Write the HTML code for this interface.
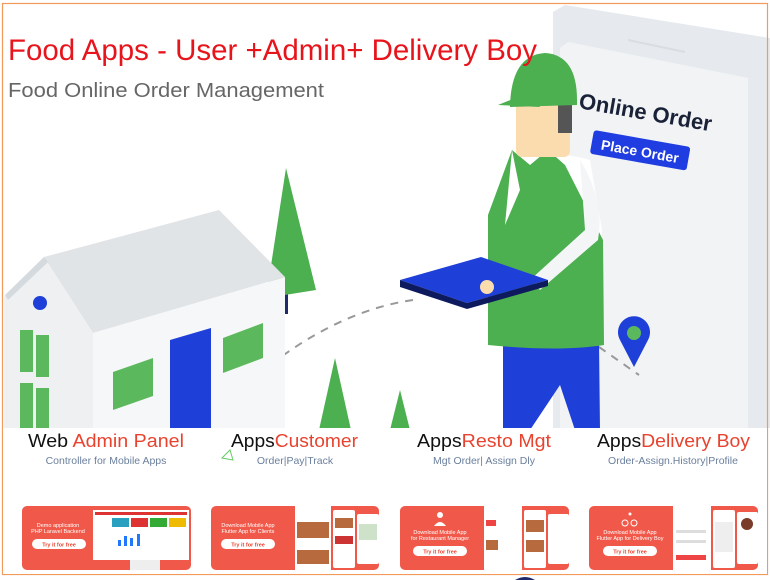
<!DOCTYPE html>
<html><head><meta charset="utf-8"><style>
html,body{margin:0;padding:0;background:#fff;width:770px;height:580px;overflow:hidden}
</style></head><body>
<svg width="770" height="580" viewBox="0 0 770 580" xmlns="http://www.w3.org/2000/svg" font-family="Liberation Sans, sans-serif">
<!-- phone -->
<polygon points="553,12 565,5 770,38 770,428 553,428" fill="#e6eaee"/>
<polygon points="560,48 568,42 748,78 748,428 560,428" fill="#f1f3f5"/>
<line x1="628" y1="40" x2="685" y2="52" stroke="#d8dde2" stroke-width="2"/>
<text x="578" y="108" font-size="22" font-weight="bold" fill="#1a2238" transform="rotate(10 578 108)">Online Order</text>
<g transform="rotate(10 594 130)"><rect x="594" y="130" width="98" height="24" rx="3" fill="#1f3de0"/>
<text x="643" y="148" font-size="14" font-weight="bold" fill="#fff" text-anchor="middle">Place Order</text></g>
<!-- dashed path -->
<path d="M413,300 C340,310 260,360 206,430" fill="none" stroke="#999" stroke-width="2" stroke-dasharray="8,7"/>
<path d="M599,347 L639,375" fill="none" stroke="#999" stroke-width="2" stroke-dasharray="8,7"/>
<!-- tree tall -->
<rect x="282" y="290" width="6" height="24" fill="#1e2a6b"/>
<polygon points="286,168 266,298 316,290" fill="#4caf50"/>
<!-- house -->
<polygon points="44,257 219,210 285,277 93,333" fill="#e1e4e7"/>
<polygon points="44,257 93,333 93,430 4,430 4,297" fill="#eef0f2"/>
<polygon points="93,333 285,277 285,430 93,430" fill="#f6f7f8"/>
<polygon points="5,295 44,257 48,262 8,300" fill="#d5dade"/>
<circle cx="40" cy="303" r="7" fill="#1e3fd8"/>
<rect x="20" y="330" width="13" height="42" fill="#5cb85c"/>
<rect x="36" y="335" width="13" height="42" fill="#5cb85c"/>
<rect x="20" y="383" width="13" height="47" fill="#5cb85c"/>
<rect x="36" y="388" width="13" height="42" fill="#5cb85c"/>
<polygon points="113,372 153,358 153,396 113,410" fill="#5cb85c"/>
<polygon points="170,340 211,328 211,430 170,430" fill="#1e3fd8"/>
<polygon points="223,338 263,323 263,358 223,373" fill="#5cb85c"/>
<!-- small trees -->
<polygon points="335,358 319,430 351,430" fill="#4caf50"/>
<polygon points="400,390 390,430 410,430" fill="#4caf50"/>
<!-- man -->
<polygon points="503,343 599,340 600,430 575,430 560,385 530,430 503,430" fill="#1e3fd8"/>
<path d="M500,175 Q540,145 590,160 L602,230 L600,330 L498,330 Z" fill="#fff"/>
<path d="M488,215 L512,150 L530,165 L548,150 L565,165 L603,240 L604,345 Q560,352 488,345 Z" fill="#4caf50"/>
<path d="M505,225 L512,150 L520,190 Z" fill="#fff"/>
<path d="M580,160 Q605,200 598,240 L540,290 L530,280 L585,230 Z" fill="#f4f5f7"/>
<rect x="516" y="95" width="54" height="62" rx="6" fill="#fbdcae"/>
<rect x="558" y="95" width="14" height="38" fill="#555"/>
<path d="M510,107 Q511,55 545,53 Q577,55 577,100 L577,105 Z" fill="#4caf50"/>
<polygon points="498,105 530,92 540,107" fill="#4caf50"/>
<polygon points="400,280 481,257 548,280 467,303" fill="#1e3fd8"/>
<polygon points="400,280 467,303 548,280 548,286 467,309 400,287" fill="#0e1a5e"/>
<circle cx="487" cy="287" r="7" fill="#fbdcae"/>
<!-- pin -->
<path d="M634,367 L620,340 A16,16 0 1 1 648,340 Z" fill="#1e3fd8"/>
<circle cx="634" cy="333" r="7" fill="#5cb85c"/>
<!-- titles -->
<text x="8" y="60" font-size="30" fill="#e8141c" textLength="529" lengthAdjust="spacingAndGlyphs">Food Apps - User +Admin+ Delivery Boy</text>
<text x="8" y="97" font-size="20" fill="#666" textLength="316" lengthAdjust="spacingAndGlyphs">Food Online Order Management</text>
<!-- border -->
<rect x="2.5" y="3.5" width="765" height="571" fill="none" stroke="#f39a5b" stroke-width="1.2"/>
<rect x="3" y="428" width="764" height="146" fill="#fff"/>
<!-- section labels -->
<g font-size="18">
<text x="28" y="447" textLength="156" lengthAdjust="spacingAndGlyphs"><tspan fill="#111">Web </tspan><tspan fill="#e8432e">Admin Panel</tspan></text>
<text x="231" y="447" textLength="127" lengthAdjust="spacingAndGlyphs"><tspan fill="#111">Apps</tspan><tspan fill="#e8432e">Customer</tspan></text>
<text x="417" y="447" textLength="134" lengthAdjust="spacingAndGlyphs"><tspan fill="#111">Apps</tspan><tspan fill="#e8432e">Resto Mgt</tspan></text>
<text x="597" y="447" textLength="153" lengthAdjust="spacingAndGlyphs"><tspan fill="#111">Apps</tspan><tspan fill="#e8432e">Delivery Boy</tspan></text>
</g>
<g font-size="10.5" fill="#6a7f9c" text-anchor="middle">
<text x="106" y="464">Controller for Mobile Apps</text>
<text x="295" y="464">Order|Pay|Track</text>
<text x="484" y="464">Mgt Order| Assign Dly</text>
<text x="673" y="464">Order-Assign.History|Profile</text>
</g>
<polygon points="222,458 230,450 233,460" fill="none" stroke="#6c6" stroke-width="1"/>
<!-- cards backgrounds -->
<rect x="22" y="506" width="169" height="64" rx="5" fill="#f0594a"/>
<rect x="211" y="506" width="168" height="64" rx="5" fill="#f0594a"/>
<rect x="400" y="506" width="169" height="64" rx="5" fill="#f0594a"/>
<rect x="589" y="506" width="169" height="64" rx="5" fill="#f0594a"/>
<!-- white screenshot areas -->
<g fill="#ffffff">
<rect x="93" y="510" width="96" height="50"/>
<rect x="295" y="506" width="36" height="64"/><rect x="333" y="510" width="22" height="58" rx="2"/><rect x="357" y="514" width="22" height="50" rx="2"/>
<rect x="484" y="506" width="38" height="64"/><rect x="524" y="510" width="22" height="58" rx="2"/><rect x="548" y="514" width="21" height="50" rx="2"/>
<rect x="673" y="506" width="38" height="64"/><rect x="713" y="510" width="22" height="58" rx="2"/><rect x="737" y="512" width="21" height="52" rx="2"/>
</g>
<!-- card 1 details -->
<rect x="95" y="512" width="92" height="3" fill="#d33"/>
<rect x="112" y="518" width="17" height="9" fill="#2aa0c0"/><rect x="131" y="518" width="17" height="9" fill="#d33"/><rect x="150" y="518" width="17" height="9" fill="#3a3"/><rect x="169" y="518" width="17" height="9" fill="#eb0"/>
<rect x="118" y="540" width="3" height="6" fill="#27f"/><rect x="124" y="536" width="3" height="10" fill="#27f"/><rect x="130" y="538" width="3" height="8" fill="#27f"/><rect x="137" y="534" width="3" height="12" fill="#27f"/>
<rect x="130" y="560" width="30" height="10" fill="#eee"/>
<text x="58" y="527" font-size="5.5" fill="#fff" text-anchor="middle">Demo application</text>
<text x="58" y="533" font-size="5.5" fill="#fff" text-anchor="middle">PHP Laravel Backend</text>
<rect x="32" y="539" width="54" height="10" rx="5" fill="#fff"/>
<text x="59" y="546.5" font-size="5.5" fill="#e8432e" text-anchor="middle" font-weight="bold">Try it for free</text>
<!-- card 2 -->
<rect x="297" y="522" width="32" height="16" fill="#b76a3e"/><rect x="297" y="550" width="32" height="14" fill="#b76a3e"/><rect x="335" y="518" width="18" height="10" fill="#b76a3e"/><rect x="335" y="536" width="18" height="8" fill="#c33"/><rect x="359" y="524" width="18" height="16" fill="#cde2c8"/>
<text x="248" y="527" font-size="5.5" fill="#fff" text-anchor="middle">Download Mobile App</text>
<text x="248" y="533" font-size="5.5" fill="#fff" text-anchor="middle">Flutter App for Clients</text>
<rect x="221" y="539" width="54" height="10" rx="5" fill="#fff"/>
<text x="248" y="546.5" font-size="5.5" fill="#e8432e" text-anchor="middle" font-weight="bold">Try it for free</text>
<!-- card 3 -->
<rect x="526" y="520" width="18" height="12" fill="#b76a3e"/><rect x="526" y="540" width="18" height="12" fill="#b76a3e"/><rect x="486" y="540" width="12" height="10" fill="#b76a3e"/><rect x="486" y="520" width="10" height="6" fill="#e44"/>
<circle cx="440" cy="515" r="3" fill="#fff"/><path d="M434,526 Q440,518 446,526 Z" fill="#fff"/>
<text x="440" y="534" font-size="5.5" fill="#fff" text-anchor="middle">Download Mobile App</text>
<text x="440" y="540" font-size="5.5" fill="#fff" text-anchor="middle">for Restaurant Manager</text>
<rect x="413" y="546" width="54" height="10" rx="5" fill="#fff"/>
<text x="440" y="553.5" font-size="5.5" fill="#e8432e" text-anchor="middle" font-weight="bold">Try it for free</text>
<!-- card 4 -->
<circle cx="747" cy="524" r="6" fill="#7a3b2a"/><rect x="715" y="522" width="18" height="30" fill="#eee"/><rect x="676" y="530" width="30" height="3" fill="#ddd"/><rect x="676" y="540" width="30" height="3" fill="#ddd"/><rect x="676" y="555" width="30" height="5" fill="#e44"/>
<circle cx="625" cy="523" r="3" stroke="#fff" fill="none"/><circle cx="634" cy="523" r="3" stroke="#fff" fill="none"/><circle cx="630" cy="514" r="1.5" fill="#fff"/>
<text x="630" y="534" font-size="5.5" fill="#fff" text-anchor="middle">Download Mobile App</text>
<text x="630" y="540" font-size="5.5" fill="#fff" text-anchor="middle">Flutter App for Delivery Boy</text>
<rect x="603" y="546" width="54" height="10" rx="5" fill="#fff"/>
<text x="630" y="553.5" font-size="5.5" fill="#e8432e" text-anchor="middle" font-weight="bold">Try it for free</text>
<path d="M515,580 Q525,574 535,580" fill="#1e2a6b"/>
</svg>
</body></html>
